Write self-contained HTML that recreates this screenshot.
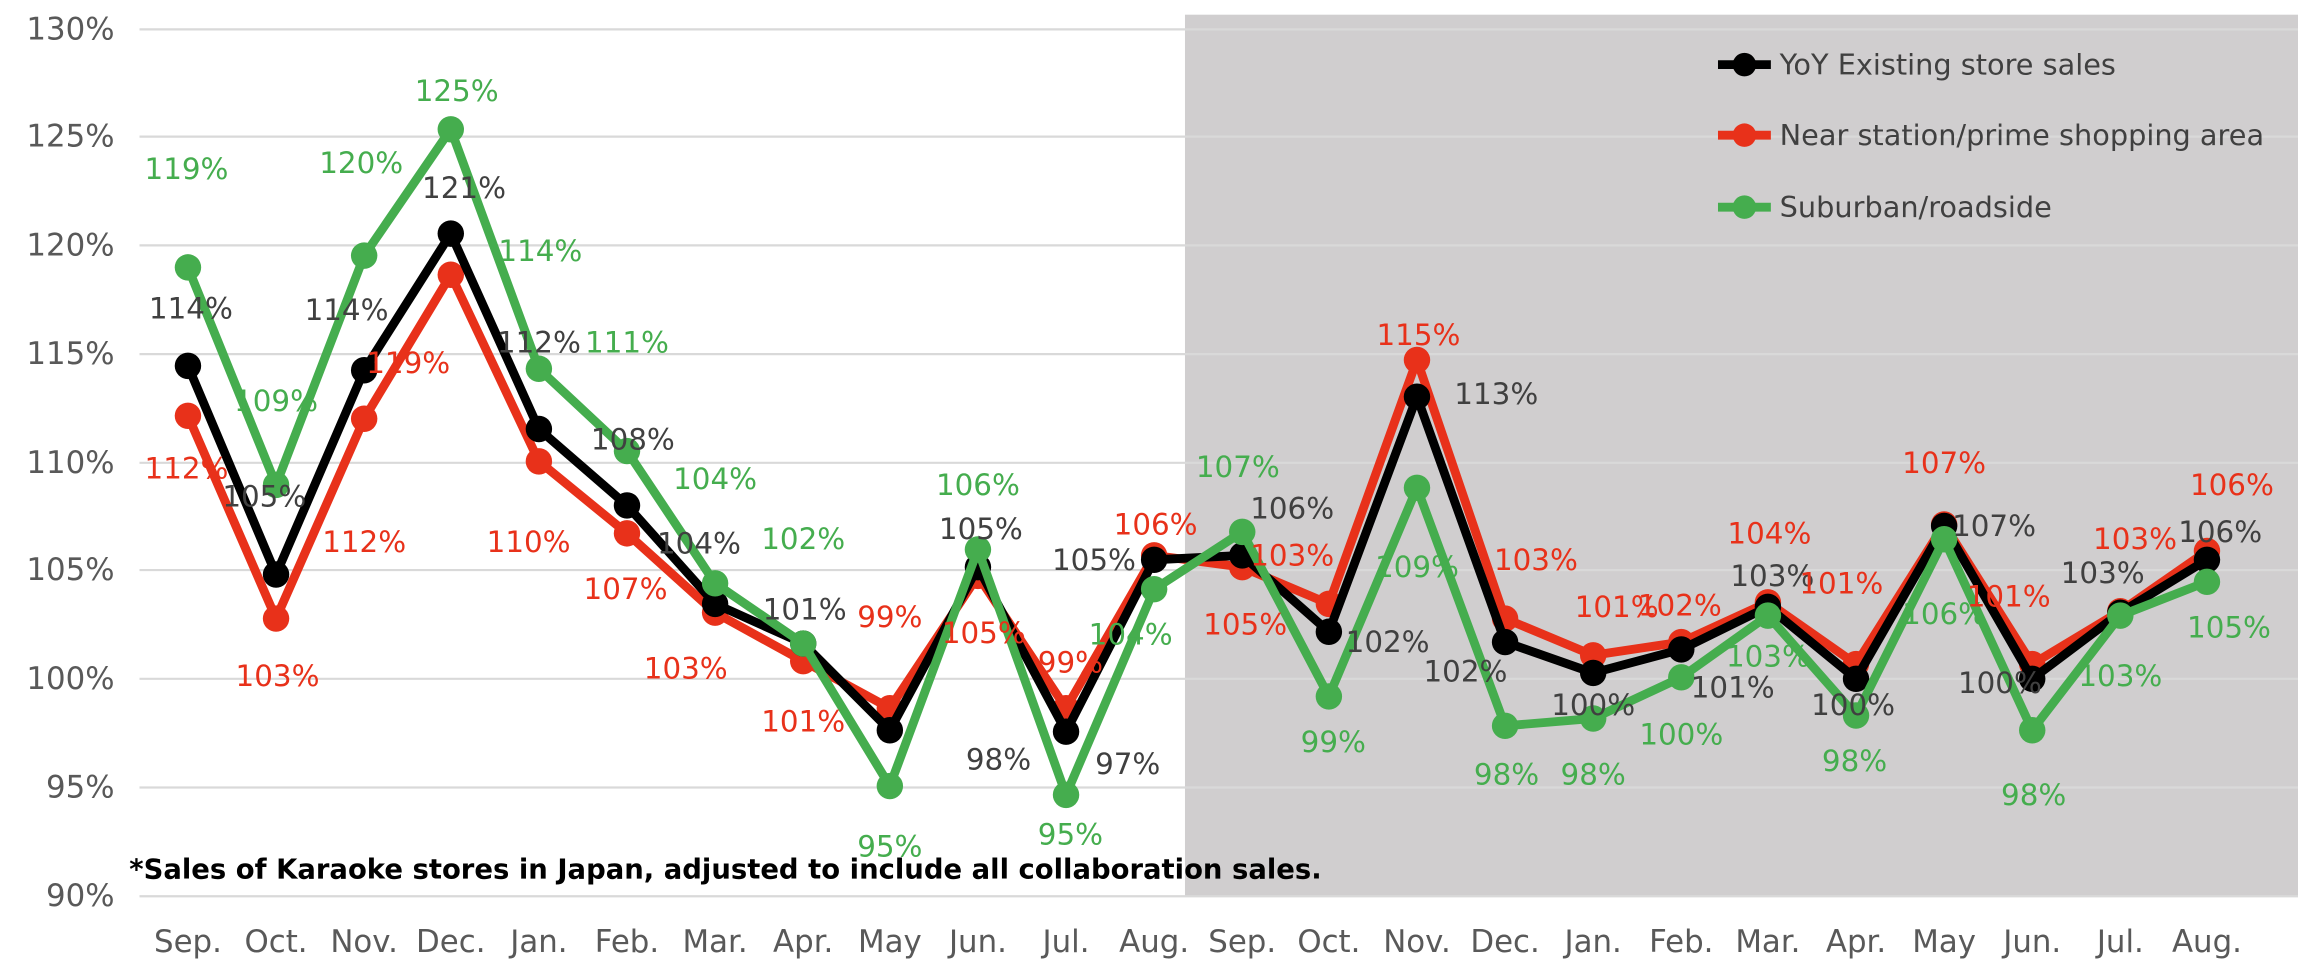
<!DOCTYPE html>
<html><head><meta charset="utf-8"><style>
html,body{margin:0;padding:0;background:#fff;}
svg{display:block;font-family:"DejaVu Sans","Liberation Sans",sans-serif;}
</style></head><body>
<svg width="2298" height="980" viewBox="0 0 1565 667" preserveAspectRatio="none" xmlns="http://www.w3.org/2000/svg">
<rect x="807" y="10" width="758" height="600" fill="#d0cecf"/>
<g stroke="#d9d9d9" stroke-width="1.5">
<line x1="95" y1="20" x2="1565" y2="20"/><line x1="95" y1="93" x2="1565" y2="93"/>
<line x1="95" y1="167" x2="1565" y2="167"/><line x1="95" y1="241" x2="1565" y2="241"/>
<line x1="95" y1="315" x2="1565" y2="315"/><line x1="95" y1="388" x2="1565" y2="388"/>
<line x1="95" y1="462" x2="1565" y2="462"/><line x1="95" y1="536" x2="1565" y2="536"/>
<line x1="95" y1="610" x2="1565" y2="610"/>
</g>
<g fill="#595959" font-size="21" text-anchor="end" dominant-baseline="central">
<text x="78" y="20">130%</text><text x="78" y="93">125%</text><text x="78" y="167">120%</text>
<text x="78" y="241">115%</text><text x="78" y="315">110%</text><text x="78" y="388">105%</text>
<text x="78" y="462">100%</text><text x="78" y="536">95%</text><text x="78" y="610">90%</text>
</g>
<g fill="#595959" font-size="21" text-anchor="middle">
<text x="128" y="648">Sep.</text><text x="188" y="648">Oct.</text><text x="248" y="648">Nov.</text><text x="307" y="648">Dec.</text>
<text x="367" y="648">Jan.</text><text x="427" y="648">Feb.</text><text x="487" y="648">Mar.</text><text x="547" y="648">Apr.</text>
<text x="606" y="648">May</text><text x="666" y="648">Jun.</text><text x="726" y="648">Jul.</text><text x="786" y="648">Aug.</text>
<text x="846" y="648">Sep.</text><text x="905" y="648">Oct.</text><text x="965" y="648">Nov.</text><text x="1025" y="648">Dec.</text>
<text x="1085" y="648">Jan.</text><text x="1145" y="648">Feb.</text><text x="1204" y="648">Mar.</text><text x="1264" y="648">Apr.</text>
<text x="1324" y="648">May</text><text x="1384" y="648">Jun.</text><text x="1444" y="648">Jul.</text><text x="1503" y="648">Aug.</text>
</g>
<polyline fill="none" stroke="#e8311a" stroke-width="6" stroke-linejoin="round" points="128,283 188,421 248,285 307,187 367,314 427,363 487,417 547,450 606,482 666,392 726,482 786,378 846,386 905,411 965,245 1025,421 1085,446 1145,437 1204,410 1264,452 1324,357 1384,452 1444,416 1503,375"/>
<g fill="#e8311a">
<circle cx="128" cy="283" r="9"/><circle cx="188" cy="421" r="9"/><circle cx="248" cy="285" r="9"/><circle cx="307" cy="187" r="9"/><circle cx="367" cy="314" r="9"/><circle cx="427" cy="363" r="9"/><circle cx="487" cy="417" r="9"/><circle cx="547" cy="450" r="9"/><circle cx="606" cy="482" r="9"/><circle cx="666" cy="392" r="9"/><circle cx="726" cy="482" r="9"/><circle cx="786" cy="378" r="9"/><circle cx="846" cy="386" r="9"/><circle cx="905" cy="411" r="9"/><circle cx="965" cy="245" r="9"/><circle cx="1025" cy="421" r="9"/><circle cx="1085" cy="446" r="9"/><circle cx="1145" cy="437" r="9"/><circle cx="1204" cy="410" r="9"/><circle cx="1264" cy="452" r="9"/><circle cx="1324" cy="357" r="9"/><circle cx="1384" cy="452" r="9"/><circle cx="1444" cy="416" r="9"/><circle cx="1503" cy="375" r="9"/>
</g>
<polyline fill="none" stroke="#000" stroke-width="6" stroke-linejoin="round" points="128,249 188,391 248,252 307,159 367,292 427,344 487,411 547,438 606,497 666,386 726,498 786,381 846,378 905,430 965,270 1025,437 1085,458 1145,442 1204,413 1264,462 1324,358 1384,462 1444,417 1503,381"/>
<g fill="#000">
<circle cx="128" cy="249" r="9"/><circle cx="188" cy="391" r="9"/><circle cx="248" cy="252" r="9"/><circle cx="307" cy="159" r="9"/><circle cx="367" cy="292" r="9"/><circle cx="427" cy="344" r="9"/><circle cx="487" cy="411" r="9"/><circle cx="547" cy="438" r="9"/><circle cx="606" cy="497" r="9"/><circle cx="666" cy="386" r="9"/><circle cx="726" cy="498" r="9"/><circle cx="786" cy="381" r="9"/><circle cx="846" cy="378" r="9"/><circle cx="905" cy="430" r="9"/><circle cx="965" cy="270" r="9"/><circle cx="1025" cy="437" r="9"/><circle cx="1085" cy="458" r="9"/><circle cx="1145" cy="442" r="9"/><circle cx="1204" cy="413" r="9"/><circle cx="1264" cy="462" r="9"/><circle cx="1324" cy="358" r="9"/><circle cx="1384" cy="462" r="9"/><circle cx="1444" cy="417" r="9"/><circle cx="1503" cy="381" r="9"/>
</g>
<polyline fill="none" stroke="#45ad4e" stroke-width="6" stroke-linejoin="round" points="128,182 188,330 248,174 307,88 367,251 427,307 487,397 547,438 606,535 666,374 726,541 786,401 846,362 905,474 965,332 1025,494 1085,489 1145,461 1204,419 1264,487 1324,367 1384,497 1444,419 1503,396"/>
<g fill="#45ad4e">
<circle cx="128" cy="182" r="9"/><circle cx="188" cy="330" r="9"/><circle cx="248" cy="174" r="9"/><circle cx="307" cy="88" r="9"/><circle cx="367" cy="251" r="9"/><circle cx="427" cy="307" r="9"/><circle cx="487" cy="397" r="9"/><circle cx="547" cy="438" r="9"/><circle cx="606" cy="535" r="9"/><circle cx="666" cy="374" r="9"/><circle cx="726" cy="541" r="9"/><circle cx="786" cy="401" r="9"/><circle cx="846" cy="362" r="9"/><circle cx="905" cy="474" r="9"/><circle cx="965" cy="332" r="9"/><circle cx="1025" cy="494" r="9"/><circle cx="1085" cy="489" r="9"/><circle cx="1145" cy="461" r="9"/><circle cx="1204" cy="419" r="9"/><circle cx="1264" cy="487" r="9"/><circle cx="1324" cy="367" r="9"/><circle cx="1384" cy="497" r="9"/><circle cx="1444" cy="419" r="9"/><circle cx="1503" cy="396" r="9"/>
</g>
<g font-size="20" text-anchor="middle" dominant-baseline="central">
<g fill="#45ad4e">
<text x="127" y="115">119%</text><text x="188" y="273">109%</text><text x="246" y="111">120%</text><text x="311" y="62">125%</text><text x="368" y="171">114%</text><text x="427" y="233">111%</text><text x="487" y="326">104%</text><text x="547" y="367">102%</text><text x="606" y="576">95%</text><text x="666" y="330">106%</text><text x="729" y="568">95%</text><text x="770" y="432">104%</text><text x="843" y="318">107%</text><text x="908" y="505">99%</text><text x="965" y="386">109%</text><text x="1026" y="527">98%</text><text x="1085" y="527">98%</text><text x="1145" y="500">100%</text><text x="1204" y="447">103%</text><text x="1263" y="518">98%</text><text x="1324" y="418">106%</text><text x="1385" y="541">98%</text><text x="1444" y="460">103%</text><text x="1518" y="427">105%</text>
</g>
<g fill="#404040">
<text x="130" y="210">114%</text><text x="180" y="338">105%</text><text x="236" y="211">114%</text><text x="316" y="128">121%</text><text x="367" y="233">112%</text><text x="431" y="299">108%</text><text x="476" y="370">104%</text><text x="548" y="415">101%</text><text x="680" y="517">98%</text><text x="668" y="360">105%</text><text x="768" y="520">97%</text><text x="745" y="381">105%</text><text x="880" y="346">106%</text><text x="945" y="437">102%</text><text x="1019" y="268">113%</text><text x="998" y="457">102%</text><text x="1085" y="480">100%</text><text x="1180" y="468">101%</text><text x="1207" y="392">103%</text><text x="1262" y="480">100%</text><text x="1358" y="358">107%</text><text x="1362" y="465">100%</text><text x="1432" y="390">103%</text><text x="1512" y="362">106%</text>
</g>
<g fill="#e8311a">
<text x="127" y="319">112%</text><text x="189" y="460">103%</text><text x="248" y="369">112%</text><text x="278" y="247">119%</text><text x="360" y="369">110%</text><text x="426" y="401">107%</text><text x="467" y="455">103%</text><text x="547" y="491">101%</text><text x="606" y="420">99%</text><text x="670" y="431">105%</text><text x="729" y="451">99%</text><text x="787" y="357">106%</text><text x="848" y="425">105%</text><text x="880" y="378">103%</text><text x="966" y="228">115%</text><text x="1046" y="381">103%</text><text x="1101" y="413">101%</text><text x="1144" y="412">102%</text><text x="1205" y="363">104%</text><text x="1254" y="397">101%</text><text x="1324" y="315">107%</text><text x="1368" y="406">101%</text><text x="1454" y="367">103%</text><text x="1520" y="330">106%</text>
</g>
</g>
<g>
<line x1="1170" y1="44" x2="1206" y2="44" stroke="#000" stroke-width="6"/><circle cx="1188" cy="44" r="8" fill="#000"/>
<line x1="1170" y1="92" x2="1206" y2="92" stroke="#e8311a" stroke-width="6"/><circle cx="1188" cy="92" r="8" fill="#e8311a"/>
<line x1="1170" y1="141" x2="1206" y2="141" stroke="#45ad4e" stroke-width="6"/><circle cx="1188" cy="141" r="8" fill="#45ad4e"/>
<g fill="#404040" font-size="19.6" dominant-baseline="central">
<text x="1212" y="44">YoY Existing store sales</text>
<text x="1212" y="92">Near station/prime shopping area</text>
<text x="1212" y="141">Suburban/roadside</text>
</g>
</g>
<text x="88" y="598" font-size="18.7" font-weight="bold" fill="#000">*Sales of Karaoke stores in Japan, adjusted to include all collaboration sales.</text>
</svg>
</body></html>
